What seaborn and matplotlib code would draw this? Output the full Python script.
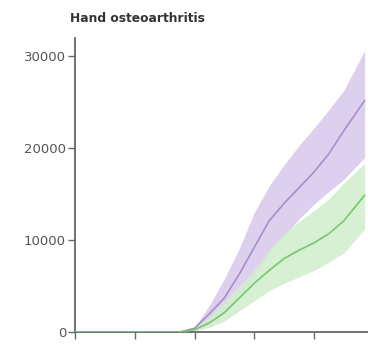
import matplotlib
matplotlib.use("Agg")
import matplotlib.pyplot as plt
import seaborn as sns
import pandas as pd

# ---- data ----
x_vals = [0, 0.5, 1.0, 1.5, 1.75, 2.0, 2.25, 2.5, 2.75, 3.0, 3.25, 3.5, 3.75, 4.0, 4.25, 4.5, 4.85]
purple_mean = [0, 0, 0, 0, 0, 400, 2000, 3700, 6300, 9200, 12100, 14000, 15700, 17400, 19400, 21900, 25200]
purple_low  = [0, 0, 0, 0, 0, 100, 700, 2000, 3900, 5900, 8500, 10400, 12300, 13900, 15300, 16600, 19000]
purple_high = [0, 0, 0, 0, 0, 500, 2900, 5800, 9100, 13000, 15900, 18200, 20300, 22200, 24200, 26300, 30650]
green_mean  = [0, 0, 0, 0, 0, 250, 1000, 2100, 3700, 5300, 6700, 8000, 8900, 9700, 10700, 12100, 14900]
green_low   = [0, 0, 0, 0, 0, 100, 500, 1200, 2300, 3400, 4500, 5300, 6000, 6700, 7600, 8600, 11200]
green_high  = [0, 0, 0, 0, 0, 400, 1600, 3300, 5000, 6800, 8900, 10700, 12000, 13200, 14500, 16200, 18400]
y_ticks = [0, 10000, 20000, 30000]
x_ticks = [0, 1, 2, 3, 4]
title = "Hand osteoarthritis"

purple_line = "#a88dcc"
purple_band = "#ddd0ee"
green_line = "#74c96f"
green_band = "#d3eecd"

sns.set_style("white")

fig = plt.figure(figsize=(3.68, 3.47), dpi=100)
ax = fig.add_axes([0.204, 0.0432, 0.80, 0.8473])

df = pd.DataFrame({
    "x": x_vals * 2,
    "y": purple_mean + green_mean,
    "group": ["purple"] * len(x_vals) + ["green"] * len(x_vals),
})

ax.fill_between(x_vals, purple_low, purple_high, color=purple_band, linewidth=0, zorder=1)
ax.fill_between(x_vals, green_low, green_high, color=green_band, linewidth=0, alpha=0.9, zorder=2)
sns.lineplot(data=df, x="x", y="y", hue="group",
             palette={"purple": purple_line, "green": green_line},
             linewidth=1.2, legend=False, ax=ax, zorder=3)

ax.set_xlim(0, 4.93)
ax.set_ylim(0, 32000)
ax.set_xticks(x_ticks)
ax.set_xticklabels([])
ax.set_yticks(y_ticks)
ax.set_yticklabels([str(v) for v in y_ticks], color="#555555", fontsize=9.5)
ax.set_xlabel("")
ax.set_ylabel("")

for side in ["top", "right"]:
    ax.spines[side].set_visible(False)
for side in ["left", "bottom"]:
    ax.spines[side].set_color("#666666")
    ax.spines[side].set_linewidth(1.3)

ax.tick_params(axis="both", which="major", direction="out", length=5,
               width=1.0, color="#666666", left=True, bottom=True, pad=1.5)

fig.text(0.19, 0.948, title, fontsize=8.8, fontweight="bold", color="#333333",
         ha="left", va="center")

fig.savefig("out.png", dpi=100)
